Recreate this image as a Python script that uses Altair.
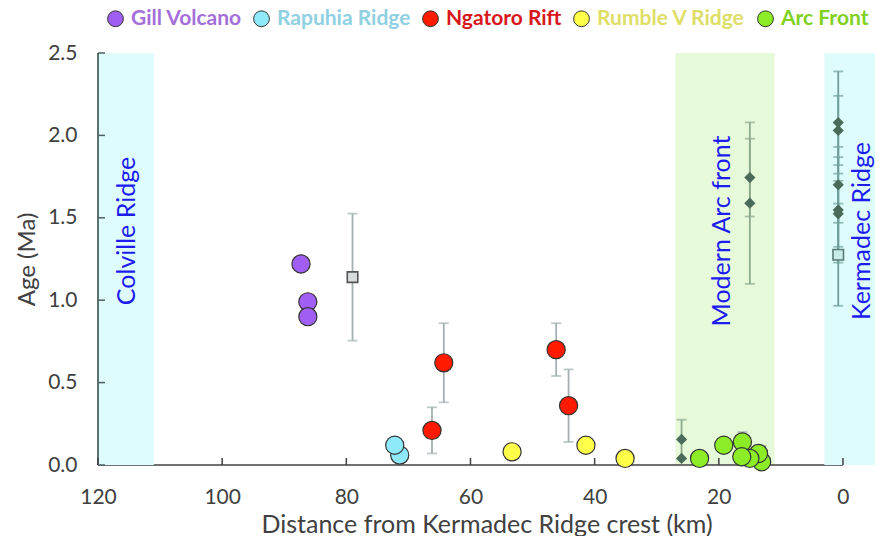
import altair as alt
import pandas as pd

FONT = "Lato"

# ---------------- data ----------------
series_names = ["Gill Volcano", "Rapuhia Ridge", "Ngatoro Rift", "Rumble V Ridge", "Arc Front"]
series_fill = ["#a15ef2", "#8ee9fb", "#ff1a00", "#ffff4a", "#8ced26"]
series_label_color = ["#a46fd9", "#8fd0e2", "#d8181c", "#dede66", "#80d122"]

gill_km = [87.3, 86.2, 86.2]
gill_age = [1.22, 0.99, 0.90]
gill_err = [0, 0, 0]

rapuhia_km = [72.2, 71.4]
rapuhia_age = [0.12, 0.06]
rapuhia_err = [0, 0]

ngatoro_km = [66.2, 64.3, 46.2, 44.2]
ngatoro_age = [0.21, 0.62, 0.70, 0.36]
ngatoro_err = [0.14, 0.24, 0.16, 0.22]

rumble_km = [53.3, 41.4, 35.1]
rumble_age = [0.08, 0.12, 0.04]
rumble_err = [0, 0, 0]

arc_km = [23.1, 19.2, 16.2, 16.3, 15.0, 13.6, 13.1]
arc_age = [0.04, 0.12, 0.14, 0.05, 0.04, 0.07, 0.02]
arc_err = [0, 0, 0.06, 0, 0, 0.05, 0]

# grey diamonds (other dated samples)
diamond_km = [26.0, 26.0, 13.1, 15.0, 15.0, 0.76, 0.76, 0.76, 0.76, 0.76]
diamond_age = [0.155, 0.04, 0.085, 1.744, 1.589, 2.078, 2.03, 1.70, 1.548, 1.524]
diamond_err = [0.12, 0.0, 0.03, 0.236, 0.49, 0.31, 0.21, 0.23, 0.32, 0.20]
diamond_grp = ["arc", "arc", "arc", "arc", "arc", "ker", "ker", "ker", "ker", "ker"]

# squares
square_km = [79.0, 0.76]
square_age = [1.14, 1.276]
square_err = [0.385, 0.31]
square_grp = ["grey", "ker"]

# background bands
band_names = ["Colville Ridge", "Modern Arc front", "Kermadec Ridge"]
band_start = [120.0, 27.0, 3.0]
band_end = [111.0, 11.0, -5.16]
band_label_km = [115.4, 19.5, -3.1]
band_label_age = [1.42, 1.42, 1.42]

x_ticks = [120, 100, 80, 60, 40, 20, 0]
y_ticks = [0.0, 0.5, 1.0, 1.5, 2.0, 2.5]

# ---------------- tables ----------------
rows = []
for name, kms, ages, errs in [
    ("Gill Volcano", gill_km, gill_age, gill_err),
    ("Rapuhia Ridge", rapuhia_km, rapuhia_age, rapuhia_err),
    ("Ngatoro Rift", ngatoro_km, ngatoro_age, ngatoro_err),
    ("Rumble V Ridge", rumble_km, rumble_age, rumble_err),
    ("Arc Front", arc_km, arc_age, arc_err),
]:
    for k, a, e in zip(kms, ages, errs):
        rows.append({"km": k, "age": a, "err": e, "series": name})
circles = pd.DataFrame(rows)

err_rows = []
for _, r in circles.iterrows():
    if r["err"] > 0:
        err_rows.append({"km": r["km"], "lo": r["age"] - r["err"], "hi": r["age"] + r["err"], "grp": "grey"})
for k, a, e, g in zip(diamond_km, diamond_age, diamond_err, diamond_grp):
    if e > 0:
        err_rows.append({"km": k, "lo": a - e, "hi": a + e, "grp": g})
for k, a, e, g in zip(square_km, square_age, square_err, square_grp):
    err_rows.append({"km": k, "lo": a - e, "hi": a + e, "grp": g})
errs = pd.DataFrame(err_rows)

diamonds = pd.DataFrame({"km": diamond_km, "age": diamond_age})
squares = pd.DataFrame({"km": square_km, "age": square_age, "grp": square_grp})
bands = pd.DataFrame({"name": band_names, "x0": band_start, "x1": band_end})
band_labels = pd.DataFrame({"name": band_names, "km": band_label_km, "age": band_label_age})
xt = pd.DataFrame({"km": x_ticks})
yt = pd.DataFrame({"age": y_ticks})

# ---------------- scales / axes ----------------
xscale = alt.Scale(domain=[120, -5.16], nice=False, zero=False)
yscale = alt.Scale(domain=[0, 2.5], nice=False, zero=False)

xaxis = alt.Axis(values=x_ticks, format="d", title="Distance from Kermadec Ridge crest (km)",
                 domain=False, ticks=False, grid=False, labelFontSize=21, labelColor="#404040",
                 labelFont=FONT, labelPadding=21, titleFont=FONT, titleFontSize=25,
                 titleFontWeight="normal", titleColor="#404040", titlePadding=5,
                 labelFlush=False)
yaxis = alt.Axis(values=y_ticks, format=".1f", title="Age (Ma)", domain=False,
                 ticks=False, grid=False,
                 labelFontSize=21, labelColor="#404040", labelFont=FONT, labelPadding=21,
                 titleFont=FONT, titleFontSize=24, titleFontWeight="normal",
                 titleColor="#404040", titlePadding=8, labelFlush=False)


def X(field):
    return alt.X(field, scale=xscale, axis=xaxis)


def Y(field):
    return alt.Y(field, scale=yscale, axis=yaxis)


# ---------------- layers ----------------
green_band = alt.Chart(bands[bands["name"] == "Modern Arc front"]).mark_rect(
    color="#e6f9d9").encode(x=X("x0:Q"), x2="x1:Q", y=alt.value(0), y2=alt.value(412))

cyan_bands = alt.Chart(bands[bands["name"] != "Modern Arc front"]).mark_rect(
    color="#dffcfc", clip=True).encode(x=X("x0:Q"), x2="x1:Q", y=alt.value(0), y2=alt.value(412))

axis_line = alt.Chart(pd.DataFrame({"a": [120], "b": [0]})).mark_rule(
    color="#404040", strokeWidth=1.5).encode(x=X("a:Q"), x2="b:Q", y=alt.value(412))

y_axis_line = alt.Chart(pd.DataFrame({"a": [120]})).mark_rule(
    color="#4c6262", strokeWidth=1.8).encode(x=X("a:Q"), y=alt.value(0), y2=alt.value(412))

x_tick_marks = alt.Chart(xt).mark_rule(color="#404040", strokeWidth=1.5).encode(
    x=X("km:Q"), y=alt.value(412), y2=alt.value(405))

y_tick_marks = alt.Chart(yt).mark_rule(color="#4c6262", strokeWidth=1.5).encode(
    y=Y("age:Q"), x=alt.value(0), x2=alt.value(7))

labels = alt.Chart(band_labels).mark_text(
    angle=270, font=FONT, fontSize=25, color="#1c1cf0", align="center", baseline="middle"
).encode(x=X("km:Q"), y=Y("age:Q"), text="name:N")

err_color = alt.Color("grp:N", scale=alt.Scale(domain=["grey", "arc", "ker"],
                                               range=["#a3b1b1", "#8caa8e", "#6f9f99"]),
                      legend=None)
err_rules = alt.Chart(errs).mark_rule(strokeWidth=1.8).encode(
    x=X("km:Q"), y=Y("lo:Q"), y2="hi:Q", color=err_color)
err_lo = alt.Chart(errs).mark_tick(orient="horizontal", size=10, thickness=1.8).encode(
    x=X("km:Q"), y=Y("lo:Q"), color=err_color)
err_hi = alt.Chart(errs).mark_tick(orient="horizontal", size=10, thickness=1.8).encode(
    x=X("km:Q"), y=Y("hi:Q"), color=err_color)

square_marks = alt.Chart(squares).mark_point(shape="square", filled=True, size=110,
                                             strokeWidth=1.6, opacity=1).encode(
    x=X("km:Q"), y=Y("age:Q"),
    fill=alt.Fill("grp:N", scale=alt.Scale(domain=["grey", "ker"], range=["#d9dcdc", "#c8ecea"]),
                  legend=None),
    stroke=alt.Stroke("grp:N", scale=alt.Scale(domain=["grey", "ker"], range=["#555555", "#587a76"]),
                      legend=None))

diamond_marks = alt.Chart(diamonds).mark_point(shape="diamond", filled=True, size=125,
                                               color="#4b6b5a", opacity=1).encode(
    x=X("km:Q"), y=Y("age:Q"))

label_expr = " : ".join(
    [f"datum.label == '{n}' ? '{c}'" for n, c in zip(series_names, series_label_color)]
) + " : '#333333'"

circle_marks = alt.Chart(circles).mark_circle(size=330, stroke="#333333", strokeWidth=1.2,
                                              opacity=1).encode(
    x=X("km:Q"), y=Y("age:Q"),
    color=alt.Color("series:N", scale=alt.Scale(domain=series_names, range=series_fill),
                    legend=alt.Legend(orient="none", legendX=7, legendY=-45, direction="horizontal",
                                      title=None, symbolType="circle", symbolSize=250,
                                      symbolStrokeColor="#333333", symbolStrokeWidth=1,
                                      symbolOpacity=1, labelFont=FONT, labelFontSize=21,
                                      labelFontWeight="bold", labelOffset=5, columnPadding=9,
                                      padding=0, labelColor=alt.ExprRef(expr=label_expr),
                                      labelLimit=300)),
    order=alt.Order("km:Q"))

chart = alt.layer(
    green_band, axis_line, cyan_bands, y_axis_line, x_tick_marks, y_tick_marks, labels,
    err_rules, err_lo, err_hi, square_marks, diamond_marks, circle_marks
).properties(
    width=777, height=412,
    padding={"left": 90, "top": 45, "right": 0, "bottom": 71},
    autosize=alt.AutoSizeParams(type="none"),
    background="white"
).configure_view(stroke=None).resolve_scale(color="independent", fill="independent",
                                            stroke="independent")

chart.save("out.html", embed_options={"renderer": "svg", "actions": False})
